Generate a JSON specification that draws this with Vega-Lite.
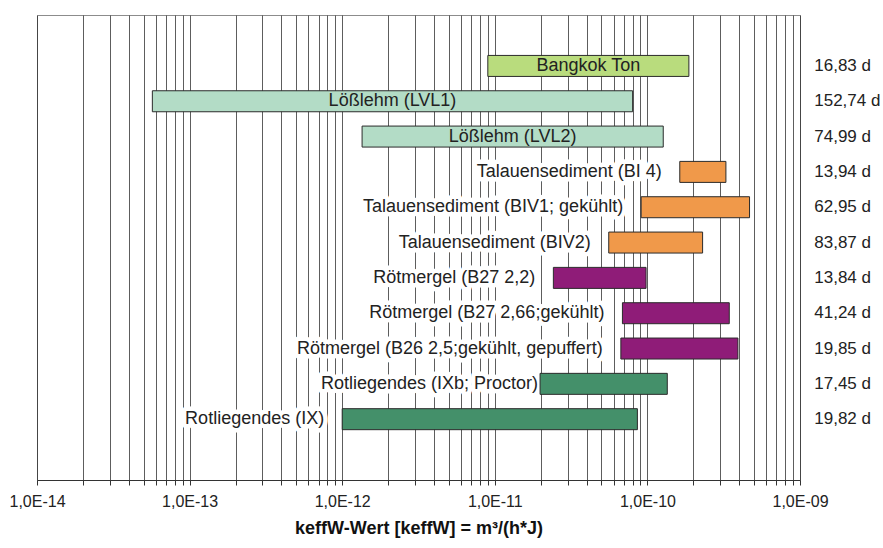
{
  "$schema": "https://vega.github.io/schema/vega-lite/v6.json",
  "width": 763,
  "height": 465,
  "autosize": {"type": "none"},
  "padding": {"left": 37, "top": 15, "right": 83, "bottom": 68},
  "background": "white",
  "config": {"font": "Liberation Sans", "view": {"stroke": "#8c8c8c", "strokeWidth": 1}},
  "data": {
    "values": [
      {"row": 11, "name": "Bangkok Ton", "material": "Bangkok Ton", "pos": "inside", "lo": 9.0e-12, "hi": 1.87e-10, "days": "16,83 d"},
      {"row": 10, "name": "Lößlehm (LVL1)", "material": "Lößlehm", "pos": "inside", "lo": 5.7e-14, "hi": 8.0e-11, "days": "152,74 d"},
      {"row": 9, "name": "Lößlehm (LVL2)", "material": "Lößlehm", "pos": "inside", "lo": 1.35e-12, "hi": 1.27e-10, "days": "74,99 d"},
      {"row": 8, "name": "Talauensediment (BI 4)", "material": "Talauensediment", "pos": "left", "lo": 1.63e-10, "hi": 3.27e-10, "days": "13,94 d"},
      {"row": 7, "name": "Talauensediment (BIV1; gekühlt)", "material": "Talauensediment", "pos": "left", "lo": 9.1e-11, "hi": 4.67e-10, "days": "62,95 d"},
      {"row": 6, "name": "Talauensediment (BIV2)", "material": "Talauensediment", "pos": "left", "lo": 5.58e-11, "hi": 2.3e-10, "days": "83,87 d"},
      {"row": 5, "name": "Rötmergel (B27 2,2)", "material": "Rötmergel", "pos": "left", "lo": 2.42e-11, "hi": 9.8e-11, "days": "13,84 d"},
      {"row": 4, "name": "Rötmergel (B27 2,66;gekühlt)", "material": "Rötmergel", "pos": "left", "lo": 6.86e-11, "hi": 3.44e-10, "days": "41,24 d"},
      {"row": 3, "name": "Rötmergel (B26 2,5;gekühlt, gepuffert)", "material": "Rötmergel", "pos": "left", "lo": 6.7e-11, "hi": 3.92e-10, "days": "19,85 d"},
      {"row": 2, "name": "Rotliegendes (IXb; Proctor)", "material": "Rotliegendes", "pos": "flush", "lo": 1.98e-11, "hi": 1.35e-10, "days": "17,45 d"},
      {"row": 1, "name": "Rotliegendes (IX)", "material": "Rotliegendes", "pos": "left", "lo": 1.0e-12, "hi": 8.6e-11, "days": "19,82 d"}
    ]
  },
  "encoding": {
    "y": {"field": "row", "type": "quantitative", "scale": {"domain": [-0.58, 12.3], "nice": false, "zero": false}, "axis": null}
  },
  "layer": [
    {
      "transform": [{"filter": "datum.pos === 'left'"}],
      "mark": {"type": "text", "align": "right", "baseline": "middle", "dx": -18, "fontSize": 18, "fill": "white", "stroke": "white", "strokeWidth": 9, "strokeJoin": "round"},
      "encoding": {
        "x": {"field": "lo", "type": "quantitative", "scale": {"type": "log", "domain": [1e-14, 1e-9], "nice": false}},
        "text": {"field": "name"}
      }
    },
    {
      "transform": [{"filter": "datum.pos === 'flush'"}],
      "mark": {"type": "text", "align": "right", "baseline": "middle", "dx": -2, "fontSize": 18, "fill": "white", "stroke": "white", "strokeWidth": 9, "strokeJoin": "round"},
      "encoding": {
        "x": {"field": "lo", "type": "quantitative"},
        "text": {"field": "name"}
      }
    },
    {
      "mark": {"type": "bar", "size": 21, "stroke": "#2b2b2b", "strokeWidth": 1},
      "encoding": {
        "x": {
          "field": "lo",
          "type": "quantitative",
          "scale": {"type": "log", "domain": [1e-14, 1e-9], "nice": false},
          "axis": {
            "title": "keffW-Wert [keffW] = m³/(h*J)",
            "values": [1e-14, 2e-14, 3e-14, 4e-14, 5e-14, 6e-14, 7e-14, 8e-14, 9e-14,
                       1e-13, 2e-13, 3e-13, 4e-13, 5e-13, 6e-13, 7e-13, 8e-13, 9e-13,
                       1e-12, 2e-12, 3e-12, 4e-12, 5e-12, 6e-12, 7e-12, 8e-12, 9e-12,
                       1e-11, 2e-11, 3e-11, 4e-11, 5e-11, 6e-11, 7e-11, 8e-11, 9e-11,
                       1e-10, 2e-10, 3e-10, 4e-10, 5e-10, 6e-10, 7e-10, 8e-10, 9e-10, 1e-9],
            "labelExpr": "abs(log(datum.value)/LN10 - round(log(datum.value)/LN10)) < 0.001 ? '1,0E-' + (abs(round(log(datum.value)/LN10)) < 10 ? '0' : '') + abs(round(log(datum.value)/LN10)) : ''",
            "grid": true,
            "gridColor": "#333333",
            "gridWidth": 0.8,
            "gridOpacity": 1,
            "tickColor": "#333333",
            "tickSize": 5,
            "domainColor": "#333333",
            "labelFontSize": 16,
            "labelColor": "#222222",
            "labelPadding": 8,
            "labelOverlap": false,
            "labelFlush": false,
            "labelBound": false,
            "titleFontSize": 18,
            "titleFontWeight": "bold",
            "titleColor": "#111111",
            "titlePadding": 10
          }
        },
        "x2": {"field": "hi"},
        "color": {
          "field": "material",
          "type": "nominal",
          "scale": {
            "domain": ["Bangkok Ton", "Lößlehm", "Talauensediment", "Rötmergel", "Rotliegendes"],
            "range": ["#b9dc7d", "#b3dcc6", "#f0994a", "#8f1c78", "#44906a"]
          },
          "legend": null
        }
      }
    },
    {
      "transform": [{"filter": "datum.pos === 'inside'"}, {"calculate": "sqrt(datum.lo * datum.hi)", "as": "mid"}],
      "mark": {"type": "text", "align": "center", "baseline": "middle", "fontSize": 18, "color": "#222222"},
      "encoding": {
        "x": {"field": "mid", "type": "quantitative"},
        "text": {"field": "name"}
      }
    },
    {
      "transform": [{"filter": "datum.pos === 'left'"}],
      "mark": {"type": "text", "align": "right", "baseline": "middle", "dx": -18, "fontSize": 18, "color": "#222222"},
      "encoding": {
        "x": {"field": "lo", "type": "quantitative"},
        "text": {"field": "name"}
      }
    },
    {
      "transform": [{"filter": "datum.pos === 'flush'"}],
      "mark": {"type": "text", "align": "right", "baseline": "middle", "dx": -2, "fontSize": 18, "color": "#222222"},
      "encoding": {
        "x": {"field": "lo", "type": "quantitative"},
        "text": {"field": "name"}
      }
    },
    {
      "mark": {"type": "text", "align": "left", "baseline": "middle", "fontSize": 17, "color": "#222222"},
      "encoding": {
        "x": {"datum": 1.24e-9, "type": "quantitative"},
        "text": {"field": "days"}
      }
    }
  ]
}
